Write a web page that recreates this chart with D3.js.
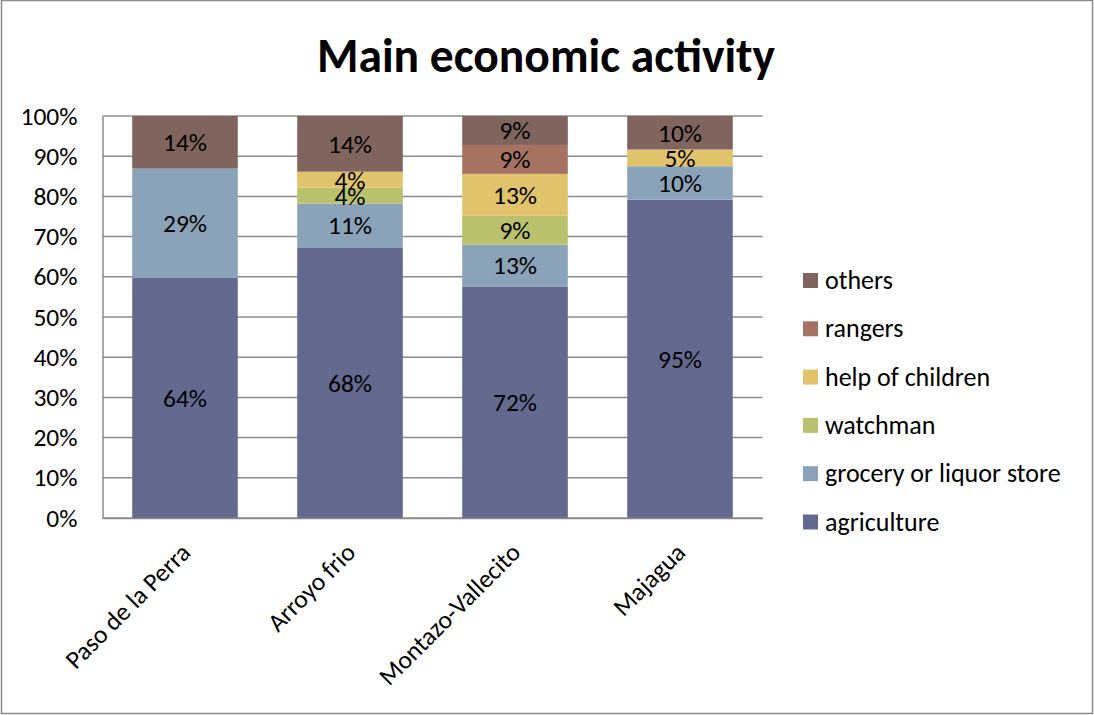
<!DOCTYPE html>
<html>
<head>
<meta charset="utf-8">
<script src="https://cdn.jsdelivr.net/npm/d3@7"></script>
<style>
  html, body { margin: 0; padding: 0; background: #fff; }
  svg { display: block; }
  text { font-family: Carlito, Lato, "Noto Sans", sans-serif; fill: #000; }
</style>
</head>
<body>
<svg id="chart" width="1094" height="715"></svg>
<script>
// Survey responses per community (percent of respondents per activity)
const categories = ["Paso de la Perra", "Arroyo frio", "Montazo-Vallecito", "Majagua"];
const agriculture = [64, 68, 72, 95];
const grocery     = [29, 11, 13, 10];
const watchman    = [0, 4, 9, 0];
const helpKids    = [0, 4, 13, 5];
const rangers     = [0, 0, 9, 0];
const others      = [14, 14, 9, 10];

const seriesNames = ["agriculture", "grocery or liquor store", "watchman", "help of children", "rangers", "others"];
const seriesValues = [agriculture, grocery, watchman, helpKids, rangers, others];
const seriesColors = ["#646a8f", "#8ba3b8", "#bac16c", "#e0c36a", "#a67362", "#7f655e"];
const yTicks = [0, 0.1, 0.2, 0.3, 0.4, 0.5, 0.6, 0.7, 0.8, 0.9, 1];

const svg = d3.select("#chart");
const W = 1094, H = 715;
const FONT = "Carlito, Lato, sans-serif";
const LABEL_SIZE = "25.5px";

// outer chart border
svg.append("rect")
  .attr("x", 1.5).attr("y", 0.5).attr("width", W - 3).attr("height", H - 2)
  .attr("fill", "#fff").attr("stroke", "#8a8a8a").attr("stroke-width", 1.5);

// title
svg.append("text")
  .attr("x", 546).attr("y", 72)
  .attr("text-anchor", "middle")
  .style("font-size", "47.5px").style("font-weight", "bold")
  .text("Main economic activity");

const plot = { left: 102.5, right: 762.5, top: 116, bottom: 518 };

// table rows for stacking
const rows = categories.map((c, i) => {
  const r = { category: c };
  seriesNames.forEach((s, k) => { r[s] = seriesValues[k][i]; });
  return r;
});

const stack = d3.stack().keys(seriesNames).offset(d3.stackOffsetExpand);
const layers = stack(rows);

const x = d3.scaleBand().domain(categories).range([plot.left, plot.right]).paddingInner(0.36).paddingOuter(0.18);
const y = d3.scaleLinear().domain([0, 1]).range([plot.bottom, plot.top]);
const color = d3.scaleOrdinal().domain(seriesNames).range(seriesColors);

// gridlines
svg.append("g").selectAll("line").data(yTicks).join("line")
  .attr("x1", plot.left).attr("x2", plot.right)
  .attr("y1", d => y(d)).attr("y2", d => y(d))
  .attr("stroke", "#8c8c8c").attr("stroke-width", 1.5);

// y axis
const yAxis = svg.append("g")
  .attr("transform", `translate(${plot.left},0)`)
  .call(d3.axisLeft(y).tickValues(yTicks).tickFormat(d3.format(".0%")).tickSize(0).tickPadding(25));
yAxis.select(".domain").attr("stroke", "#8c8c8c").attr("stroke-width", 1.5);
yAxis.selectAll("text").style("font-size", LABEL_SIZE).style("font-family", FONT).attr("fill", "#000");

// bars
const layerG = svg.append("g").selectAll("g").data(layers).join("g")
  .attr("fill", d => color(d.key));
layerG.selectAll("rect").data(d => d.filter(p => p[1] - p[0] > 0)).join("rect")
  .attr("x", d => x(d.data.category))
  .attr("width", x.bandwidth())
  .attr("y", d => y(d[1]))
  .attr("height", d => y(d[0]) - y(d[1]));

// value labels
const labelG = svg.append("g");
layers.forEach(layer => {
  layer.forEach(p => {
    const v = p.data[layer.key];
    if (!v) return;
    labelG.append("text")
      .attr("x", x(p.data.category) + x.bandwidth() / 2)
      .attr("y", (y(p[0]) + y(p[1])) / 2)
      .attr("dy", "0.35em")
      .attr("text-anchor", "middle")
      .style("font-size", LABEL_SIZE)
      .text(v + "%");
  });
});

// x axis
const xAxis = svg.append("g")
  .attr("transform", `translate(0,${plot.bottom})`)
  .call(d3.axisBottom(x).tickSize(0).tickPadding(0));
xAxis.select(".domain").attr("stroke", "#8c8c8c").attr("stroke-width", 1.5);
xAxis.selectAll("text")
  .style("font-size", LABEL_SIZE).style("font-family", FONT).attr("fill", "#000")
  .attr("text-anchor", "end")
  .attr("dy", null).attr("y", 0)
  .attr("transform", "translate(7,36) rotate(-45)");

// legend (top to bottom: others ... agriculture)
const legendItems = seriesNames.slice().reverse();
const lg = svg.append("g").attr("transform", "translate(803,280)");
const li = lg.selectAll("g").data(legendItems).join("g")
  .attr("transform", (d, i) => `translate(0,${i * 48.3})`);
li.append("rect").attr("x", 0).attr("y", -7).attr("width", 15).attr("height", 15)
  .attr("fill", d => color(d));
li.append("text").attr("x", 22).attr("y", 0).attr("dy", "0.35em")
  .style("font-size", "26px").text(d => d);
</script>
</body>
</html>
